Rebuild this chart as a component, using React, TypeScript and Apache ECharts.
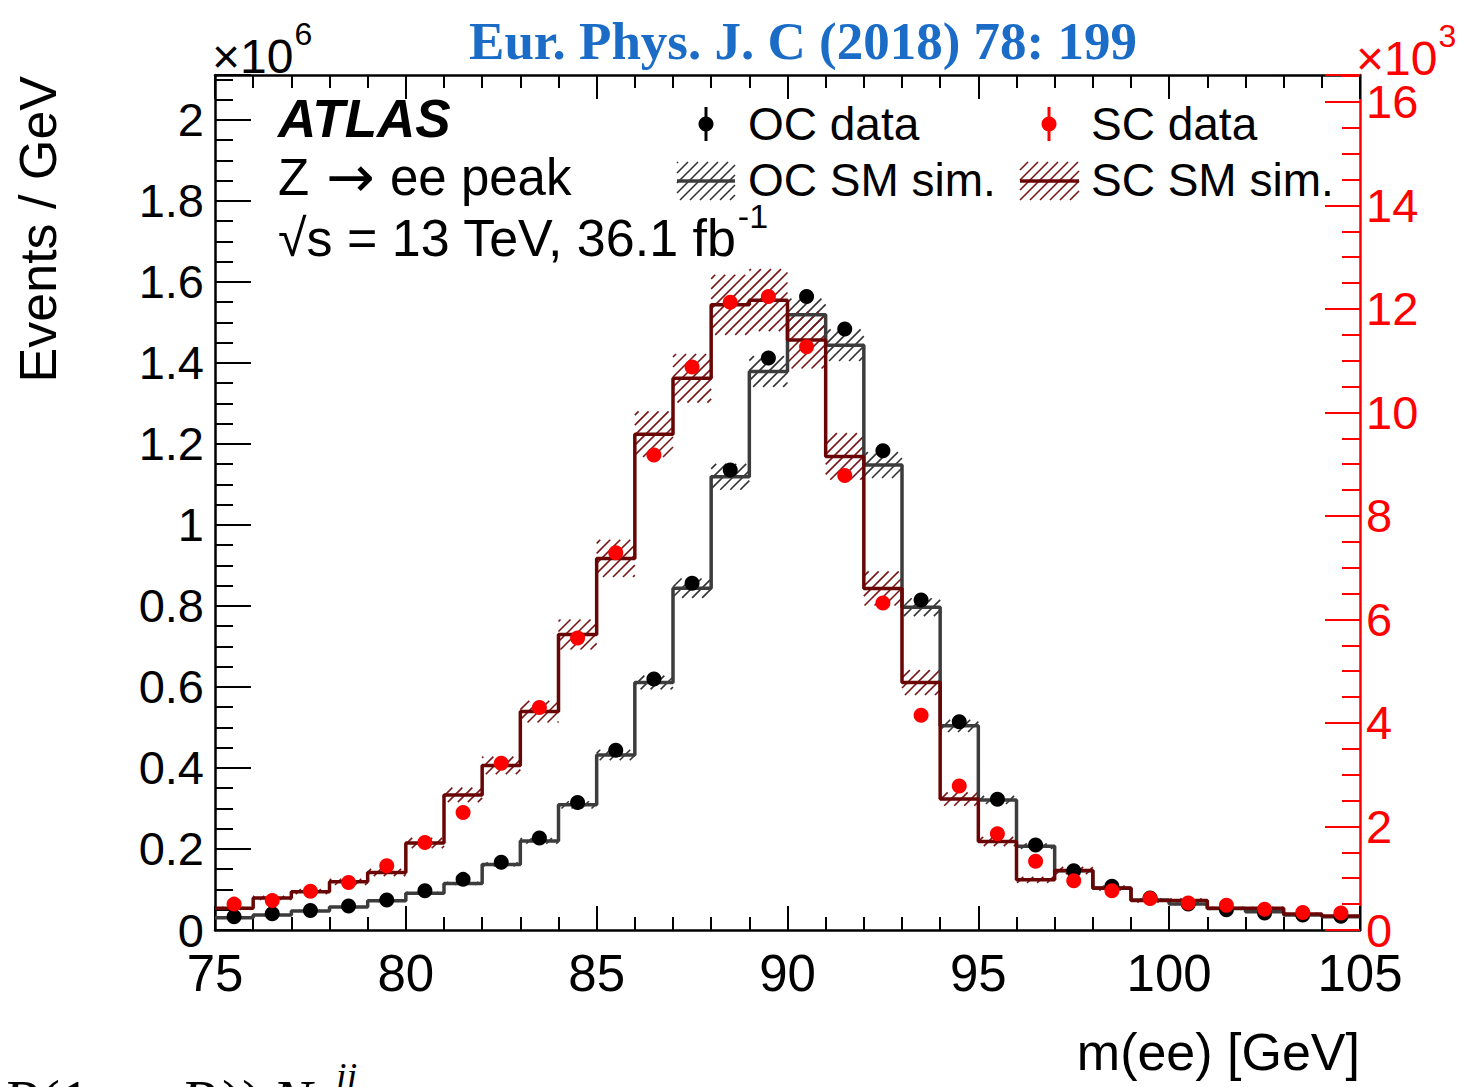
import React, { useEffect, useRef } from "react";
import * as echarts from "echarts";

// ---------------- data ----------------
const binEdges = [75, 76, 77, 78, 79, 80, 81, 82, 83, 84, 85, 86, 87, 88, 89, 90, 91, 92, 93, 94, 95, 96, 97, 98, 99, 100, 101, 102, 103, 104, 105];

// opposite-charge (left axis, x10^6 events / GeV)
const ocData = [0.033, 0.040, 0.048, 0.059, 0.074, 0.097, 0.125, 0.167, 0.227, 0.315, 0.444, 0.620, 0.856, 1.136, 1.412, 1.564, 1.484, 1.183, 0.815, 0.514, 0.323, 0.210, 0.146, 0.108, 0.079, 0.064, 0.050, 0.042, 0.037, 0.034];
const ocSim = [0.030, 0.037, 0.047, 0.057, 0.072, 0.091, 0.115, 0.162, 0.220, 0.309, 0.432, 0.611, 0.844, 1.119, 1.379, 1.519, 1.444, 1.148, 0.797, 0.504, 0.321, 0.207, 0.146, 0.103, 0.074, 0.064, 0.053, 0.045, 0.037, 0.033];
const ocSimUnc = [0.002, 0.002, 0.002, 0.002, 0.003, 0.003, 0.004, 0.005, 0.007, 0.009, 0.013, 0.017, 0.024, 0.032, 0.038, 0.040, 0.039, 0.032, 0.022, 0.015, 0.010, 0.007, 0.005, 0.004, 0.003, 0.003, 0.002, 0.002, 0.002, 0.002];

// same-charge (right axis, x10^3 events / GeV)
const scData = [0.50, 0.57, 0.75, 0.92, 1.24, 1.69, 2.27, 3.22, 4.30, 5.64, 7.29, 9.18, 10.88, 12.13, 12.24, 11.27, 8.78, 6.32, 4.15, 2.78, 1.86, 1.33, 0.95, 0.76, 0.61, 0.52, 0.48, 0.40, 0.34, 0.33];
const scSim = [0.42, 0.62, 0.74, 0.93, 1.11, 1.68, 2.61, 3.18, 4.22, 5.71, 7.18, 9.58, 10.66, 12.08, 12.17, 11.40, 9.15, 6.60, 4.78, 2.53, 1.71, 0.97, 1.15, 0.81, 0.57, 0.57, 0.42, 0.42, 0.31, 0.27];
const scSimUnc = [0.03, 0.04, 0.05, 0.06, 0.07, 0.10, 0.14, 0.17, 0.21, 0.29, 0.36, 0.44, 0.47, 0.58, 0.60, 0.55, 0.45, 0.33, 0.24, 0.13, 0.09, 0.06, 0.07, 0.05, 0.04, 0.04, 0.03, 0.03, 0.02, 0.02];

const legendLabels = ["OC data", "SC data", "OC SM sim.", "SC SM sim."];

// ---------------- styles ----------------
const SANS = '"Liberation Sans", Arial, Helvetica, sans-serif';
const SERIF = '"Liberation Serif", "Times New Roman", serif';
const OC_LINE = "#3c3c3c";
const OC_HATCH = "#333333";
const SC_LINE = "#6a0505";
const SC_HATCH = "#7a1515";
const RED = "#ff0000";
const BLUE = "#1b6cc6";
const HATCH_DX = 10;

let measureCtx: CanvasRenderingContext2D | null = null;
function textWidth(text: string, font: string): number {
  if (!measureCtx) measureCtx = document.createElement("canvas").getContext("2d");
  if (!measureCtx) return text.length * 20;
  measureCtx.font = font;
  return measureCtx.measureText(text).width;
}

function hatch(x0: number, y0: number, x1: number, y1: number, color: string, w: number) {
  const out: any[] = [];
  const cMin = x0 + y0;
  const cMax = x1 + y1;
  for (let c = Math.ceil(cMin / HATCH_DX) * HATCH_DX; c <= cMax; c += HATCH_DX) {
    const xs = Math.max(x0, c - y1);
    const xe = Math.min(x1, c - y0);
    if (xe - xs > 0.5) {
      out.push({
        type: "line",
        shape: { x1: xs, y1: c - xs, x2: xe, y2: c - xe },
        style: { stroke: color, lineWidth: w },
        silent: true,
      });
    }
  }
  return out;
}

function txt(
  text: string,
  x: number,
  y: number,
  size: number,
  opts: { family?: string; weight?: string; style?: string; fill?: string; align?: string; vAlign?: string; rotation?: number } = {}
) {
  const align = opts.align || "left";
  const vAlign = opts.vAlign || "middle";
  return {
    type: "text",
    x,
    y,
    rotation: opts.rotation || 0,
    silent: true,
    z: 100,
    style: {
      text,
      fill: opts.fill || "#000",
      fontSize: size,
      fontFamily: opts.family || SANS,
      fontWeight: opts.weight || "normal",
      fontStyle: opts.style || "normal",
      align,
      verticalAlign: vAlign,
      textAlign: align,
      textVerticalAlign: vAlign,
    },
  };
}

function stepPoints(vals: number[]) {
  const pts: number[][] = [];
  vals.forEach((v, i) => {
    pts.push([binEdges[i], v]);
    pts.push([binEdges[i + 1], v]);
  });
  return pts;
}

function centers(vals: number[]) {
  return vals.map((v, i) => [(binEdges[i] + binEdges[i + 1]) / 2, v]);
}

function bandData(sim: number[], unc: number[]) {
  return sim.map((v, i) => [binEdges[i], binEdges[i + 1], v - unc[i], v + unc[i]]);
}

function bandSeries(sim: number[], unc: number[], yIdx: number, color: string) {
  return {
    type: "custom",
    xAxisIndex: 0,
    yAxisIndex: yIdx,
    silent: true,
    z: 2,
    data: bandData(sim, unc),
    encode: { x: [0, 1], y: [2, 3] },
    renderItem: (params: any, api: any) => {
      const p0 = api.coord([api.value(0), api.value(3)]);
      const p1 = api.coord([api.value(1), api.value(2)]);
      return { type: "group", children: hatch(p0[0], p0[1], p1[0], p1[1], color, 1.6) };
    },
  };
}

function buildGraphic() {
  const g: any[] = [];
  // header
  g.push(txt("Eur. Phys. J. C (2018) 78: 199", 803, 41, 53, { family: SERIF, weight: "bold", fill: BLUE, align: "center" }));
  // x10^6 (left)
  const fMul = 48;
  const w1 = textWidth("×10", `${fMul}px ${SANS}`);
  g.push(txt("×10", 212, 56, fMul));
  g.push(txt("6", 212 + w1 + 1, 34, 32));
  // x10^3 (right)
  g.push(txt("×10", 1356, 58, fMul, { fill: RED }));
  g.push(txt("3", 1356 + w1 + 1, 36, 32, { fill: RED }));
  // axis titles
  g.push(txt("Events / GeV", 38, 76, 52, { align: "right", rotation: Math.PI / 2 }));
  g.push(txt("m(ee) [GeV]", 1360, 1052, 52, { align: "right" }));
  // ATLAS label
  g.push(txt("ATLAS", 278, 118, 53, { weight: "bold", style: "italic" }));
  g.push(txt("Z", 278, 177, 51));
  g.push(txt("→", 326, 177, 58, { family: '"DejaVu Sans", sans-serif' }));
  g.push(txt("ee peak", 390, 177, 51));
  const sqrtText = "√s = 13 TeV, 36.1 fb";
  const fS = 52;
  const wS = textWidth(sqrtText, `${fS}px ${SANS}`);
  g.push(txt(sqrtText, 278, 238, fS));
  g.push(txt("-1", 278 + wS + 1, 216, 34));
  // legend: data markers
  g.push({ type: "line", shape: { x1: 706, y1: 107, x2: 706, y2: 141 }, style: { stroke: "#000", lineWidth: 3 }, silent: true, z: 100 });
  g.push({ type: "circle", shape: { cx: 706, cy: 124, r: 7.5 }, style: { fill: "#000" }, silent: true, z: 101 });
  g.push({ type: "line", shape: { x1: 1049, y1: 107, x2: 1049, y2: 141 }, style: { stroke: RED, lineWidth: 3 }, silent: true, z: 100 });
  g.push({ type: "circle", shape: { cx: 1049, cy: 124, r: 7.5 }, style: { fill: RED }, silent: true, z: 101 });
  // legend: hatched boxes
  hatch(677, 162, 735, 200, OC_HATCH, 1.6).forEach((e) => g.push({ ...e, z: 100 }));
  g.push({ type: "line", shape: { x1: 677, y1: 181, x2: 735, y2: 181 }, style: { stroke: OC_LINE, lineWidth: 3.5 }, silent: true, z: 101 });
  hatch(1020, 162, 1079, 200, SC_HATCH, 1.6).forEach((e) => g.push({ ...e, z: 100 }));
  g.push({ type: "line", shape: { x1: 1020, y1: 181, x2: 1079, y2: 181 }, style: { stroke: SC_LINE, lineWidth: 3.5 }, silent: true, z: 101 });
  // legend texts
  g.push(txt(legendLabels[0], 748, 124, 46));
  g.push(txt(legendLabels[1], 1091, 124, 46));
  g.push(txt(legendLabels[2], 748, 180, 46));
  g.push(txt(legendLabels[3], 1091, 180, 46));
  // cropped formula fragment at the bottom of the page
  const yF = 1101;
  g.push(txt("P", 2, yF, 60, { family: SERIF, style: "italic" }));
  g.push(txt("(1 − ", 40, yF, 60, { family: SERIF }));
  g.push(txt("P", 180, yF, 60, { family: SERIF, style: "italic" }));
  g.push(txt("))", 222, yF, 60, { family: SERIF }));
  g.push(txt("N", 272, yF, 60, { family: SERIF, style: "italic" }));
  g.push(txt("ij", 336, 1076, 38, { family: SERIF, style: "italic" }));
  return g;
}

function axisCommon(color: string) {
  return {
    axisLine: { show: true, onZero: false, lineStyle: { color, width: 2.5 } },
    splitLine: { show: false },
    minorSplitLine: { show: false },
  };
}

export default function App() {
  const ref = useRef<HTMLDivElement>(null);
  useEffect(() => {
    if (!ref.current) return;
    const chart = echarts.init(ref.current, undefined, { renderer: "svg" });
    const fmtLeft = (v: number) => {
      const k = v / 0.2;
      if (Math.abs(k - Math.round(k)) > 1e-6) return "";
      return String(Math.round(v * 10) / 10);
    };
    const fmtRight = (v: number) => {
      const k = v / 2;
      if (Math.abs(k - Math.round(k)) > 1e-6) return "";
      return String(Math.round(v));
    };
    const option: any = {
      animation: false,
      backgroundColor: "#ffffff",
      grid: { left: 215, right: 103, top: 75, bottom: 157, containLabel: false },
      xAxis: [
        {
          type: "value",
          min: 75,
          max: 105,
          interval: 5,
          position: "bottom",
          ...axisCommon("#000"),
          axisTick: { show: true, inside: true, length: 24, lineStyle: { color: "#000", width: 2 } },
          minorTick: { show: true, splitNumber: 5, length: 13, lineStyle: { color: "#000", width: 2 } },
          axisLabel: { color: "#000", fontSize: 51, fontFamily: SANS, margin: 18 },
        },
        {
          type: "value",
          min: 75,
          max: 105,
          interval: 5,
          position: "top",
          ...axisCommon("#000"),
          axisTick: { show: true, inside: true, length: 24, lineStyle: { color: "#000", width: 2 } },
          minorTick: { show: true, splitNumber: 5, length: 13, lineStyle: { color: "#000", width: 2 } },
          axisLabel: { show: false },
        },
      ],
      yAxis: [
        {
          type: "value",
          min: 0,
          max: 2.111,
          interval: 0.2,
          position: "left",
          ...axisCommon("#000"),
          axisTick: { show: true, inside: true, length: 36, lineStyle: { color: "#000", width: 2 } },
          minorTick: { show: true, splitNumber: 4, length: 18, lineStyle: { color: "#000", width: 2 } },
          axisLabel: { color: "#000", fontSize: 47, fontFamily: SANS, margin: 11, formatter: fmtLeft },
        },
        {
          type: "value",
          min: 0,
          max: 16.52,
          interval: 2,
          position: "right",
          ...axisCommon(RED),
          axisTick: { show: true, inside: true, length: 35, lineStyle: { color: RED, width: 2 } },
          minorTick: { show: true, splitNumber: 4, length: 18, lineStyle: { color: RED, width: 2 } },
          axisLabel: { color: RED, fontSize: 47, fontFamily: SANS, margin: 6, formatter: fmtRight },
        },
      ],
      series: [
        bandSeries(ocSim, ocSimUnc, 0, OC_HATCH),
        {
          type: "line",
          name: legendLabels[2],
          xAxisIndex: 0,
          yAxisIndex: 0,
          data: stepPoints(ocSim),
          symbol: "none",
          lineStyle: { color: OC_LINE, width: 3.5 },
          z: 3,
          silent: true,
        },
        bandSeries(scSim, scSimUnc, 1, SC_HATCH),
        {
          type: "line",
          name: legendLabels[3],
          xAxisIndex: 0,
          yAxisIndex: 1,
          data: stepPoints(scSim),
          symbol: "none",
          lineStyle: { color: SC_LINE, width: 3.5 },
          z: 4,
          silent: true,
        },
        {
          type: "scatter",
          name: legendLabels[0],
          xAxisIndex: 0,
          yAxisIndex: 0,
          data: centers(ocData),
          symbol: "circle",
          symbolSize: 15,
          itemStyle: { color: "#000", opacity: 1 },
          z: 5,
          silent: true,
        },
        {
          type: "scatter",
          name: legendLabels[1],
          xAxisIndex: 0,
          yAxisIndex: 1,
          data: centers(scData),
          symbol: "circle",
          symbolSize: 15,
          itemStyle: { color: RED, opacity: 1 },
          z: 6,
          silent: true,
        },
      ],
      graphic: buildGraphic(),
    };
    chart.setOption(option);
    return () => chart.dispose();
  }, []);
  return (
    <div
      style={{ position: "absolute", left: 0, top: 0, width: 1463, height: 1087, background: "#fff", overflow: "hidden" }}
    >
      <div ref={ref} style={{ width: 1463, height: 1087 }} />
    </div>
  );
}
